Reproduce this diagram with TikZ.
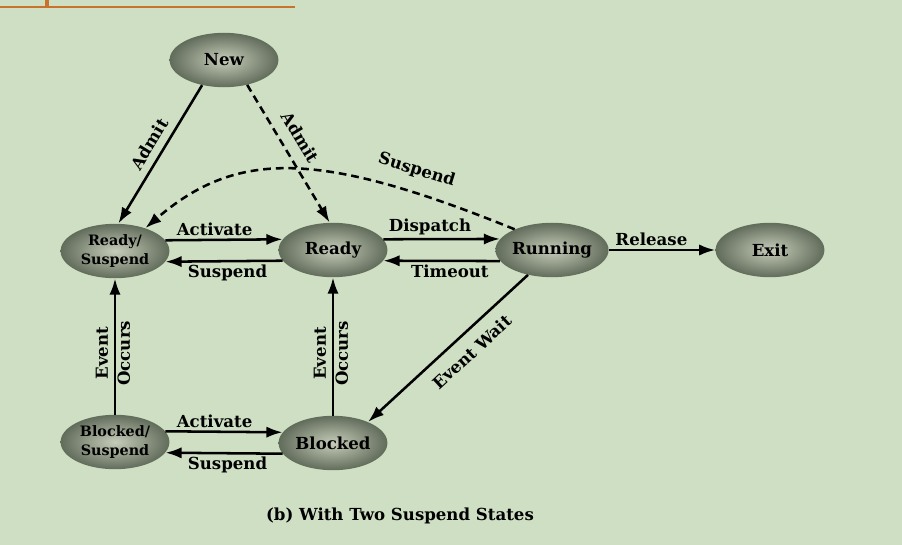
\documentclass[tikz,border=0pt]{standalone}
\usepackage{fontspec}
\setmainfont{DejaVu Serif}
\usetikzlibrary{arrows.meta,shapes.geometric}

\definecolor{slidebg}{RGB}{207,223,196}
\definecolor{rulecol}{RGB}{201,114,44}
\definecolor{stateIn}{RGB}{198,204,186}
\definecolor{stateOut}{RGB}{98,108,90}

\begin{document}
\begin{tikzpicture}[x=0.025cm, y=-0.025cm,
  state/.style={ellipse, shade, inner color=stateIn, outer color=stateOut, minimum width=2.72cm, minimum height=1.36cm, inner sep=0pt, align=center, font=\bfseries\fontsize{11.8}{13}\selectfont},
  state2/.style={state, font=\bfseries\fontsize{10.2}{13.8}\selectfont},
  arr/.style={-{Latex[length=11.5pt,width=8pt]}, line width=1.8pt},
  dasharr/.style={arr, dash pattern=on 5.5pt off 3.5pt},
  lbl/.style={font=\bfseries\fontsize{11.8}{13}\selectfont, inner sep=2pt}
]
\useasboundingbox (0,0) rectangle (902,545);
\fill[slidebg] (0,0) rectangle (902,545);

% slide rule, top left
\draw[rulecol, line width=2.1pt] (0,7) -- (295,7);
\draw[rulecol, line width=2.6pt] (47,0) -- (47,7);

% states
\node[state] (nw) at (224,60) {New};
\node[state2] (rs) at (115,251) {Ready/\\Suspend};
\node[state] (rd) at (333,250) {Ready};
\node[state] (rn) at (552,250) {Running};
\node[state] (ex) at (770,250) {Exit};
\node[state2] (bs) at (115,442) {Blocked/\\Suspend};
\node[state] (bl) at (333,443) {Blocked};

% transitions
\draw[arr] (nw.229) -- node[lbl, sloped, above=3pt, pos=0.48] {Admit} (rs.83);
\draw[dasharr] (nw.-47) -- node[lbl, sloped, above=6pt, pos=0.45] {Admit} (rd.97);
\draw[dasharr] (rn.151) .. controls +(-195,-79) and +(92,-79) .. node[lbl, sloped, above=7pt, pos=0.2] {Suspend} (rs.37);

\draw[arr] (rs.12) -- node[lbl, above, pos=0.42] {Activate} (rd.168);
\draw[arr] (rd.192) -- node[lbl, below, pos=0.47] {Suspend} (rs.-12);
\draw[arr] (rd.12) -- node[lbl, above, pos=0.4] {Dispatch} (rn.168);
\draw[arr] (rn.192) -- node[lbl, below, pos=0.43] {Timeout} (rd.-12);
\draw[arr] (rn) -- node[lbl, above, pos=0.4] {Release} (ex);

\draw[arr] (rn.226) -- node[lbl, sloped, below=6pt, pos=0.43] {Event Wait} (bl.31);

\draw[arr] (bs) -- node[lbl, sloped, above=2pt, pos=0.45] {Event} node[lbl, sloped, below=0pt, inner sep=1pt, pos=0.45] {Occurs} (rs);
\draw[arr] (bl) -- node[lbl, sloped, above=2pt, pos=0.45] {Event} node[lbl, sloped, below=0pt, inner sep=1pt, pos=0.45] {Occurs} (rd);

\draw[arr] (bs.12) -- node[lbl, above, pos=0.42] {Activate} (bl.168);
\draw[arr] (bl.192) -- node[lbl, below, pos=0.47] {Suspend} (bs.-12);

% caption
\node[lbl] (cap) at (400,516) {(b) With Two Suspend States};
\end{tikzpicture}
\end{document}
